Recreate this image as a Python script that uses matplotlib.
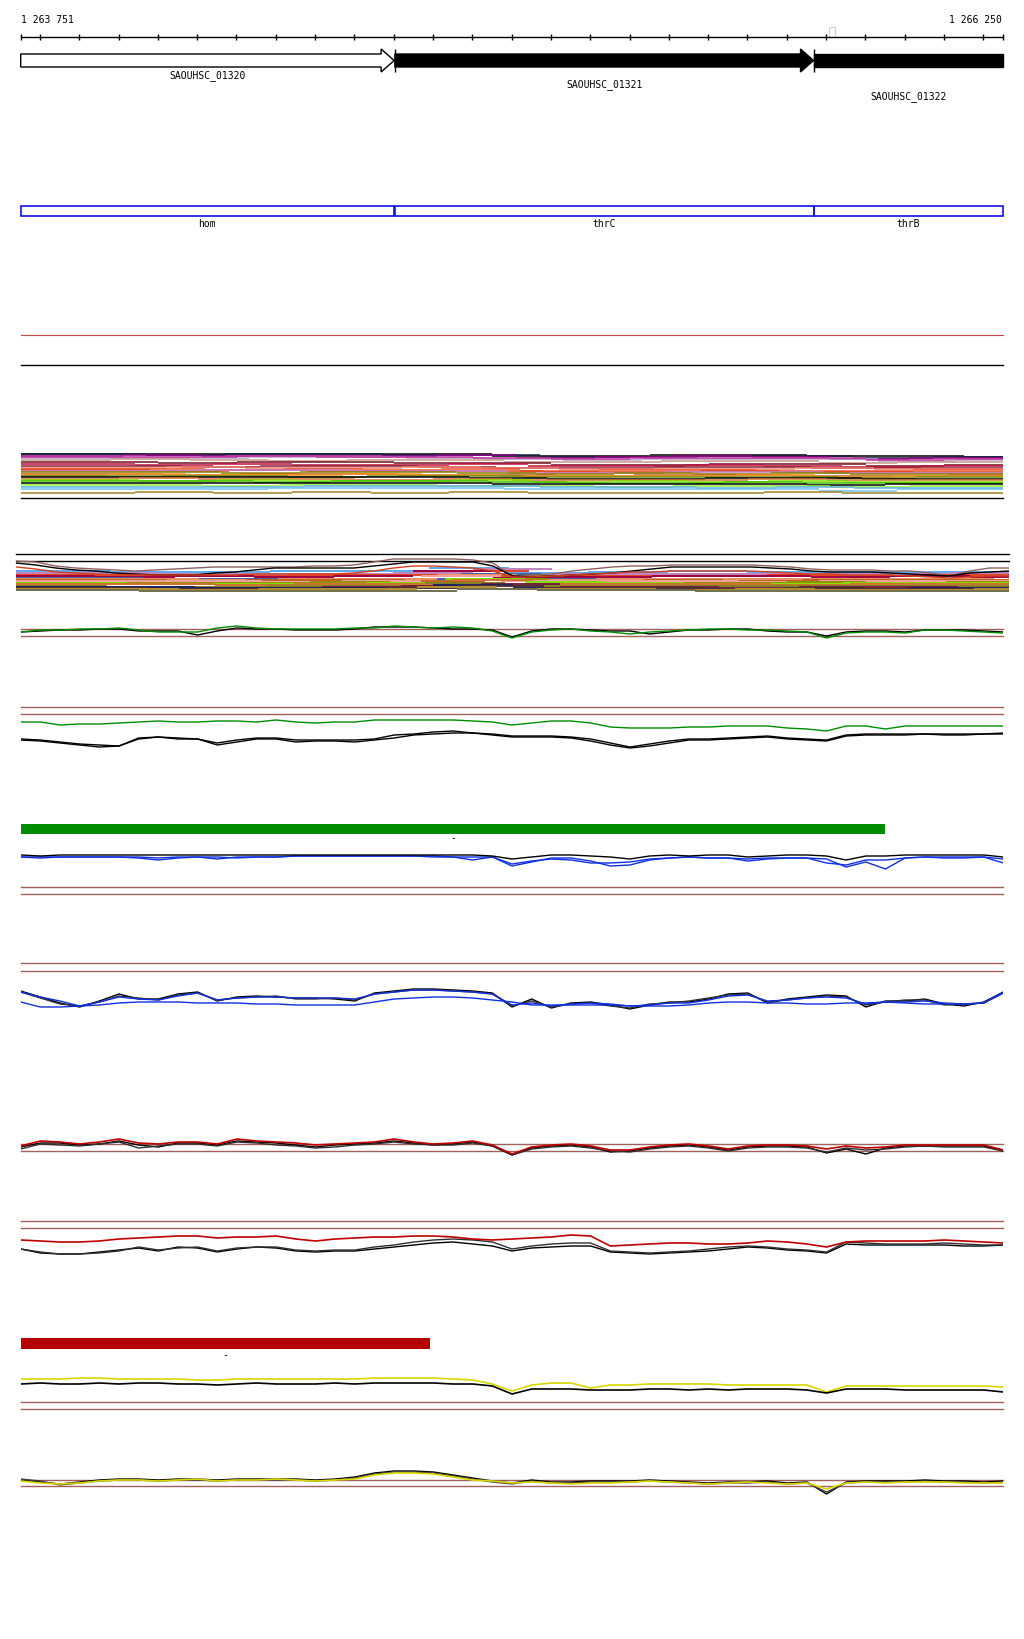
"""Genome browser view: SAOUHSC_01320..01322 (hom / thrC / thrB) with signal tracks."""
import matplotlib
matplotlib.use("Agg")
import matplotlib.pyplot as plt
from matplotlib.patches import Polygon, Rectangle
import numpy as np

W_PX, H_PX = 1024, 1640
GEN0, GEN1 = 1263751, 1266250
X0_PX, X1_PX = 20.7, 1003.0
SCALE = (X1_PX - X0_PX) / (GEN1 - GEN0)

# ---- annotation data ----
gene_names = ["SAOUHSC_01320", "SAOUHSC_01321", "SAOUHSC_01322"]
gene_start = [1263751, 1264703, 1265769]
gene_end = [1264701, 1265768, 1266250]
gene_fill = ["white", "black", "black"]
gene_has_head = [True, True, False]
gene_label_row = [76, 85, 97]

cds_names = ["hom", "thrC", "thrB"]
cds_start = [1263751, 1264703, 1265769]
cds_end = [1264701, 1265768, 1266250]

green_bar = (1263751, 1265950)
red_bar = (1263751, 1264793)
marker_box = (1265808, 1265823)

# ---- signal data (50 bp bins) ----
POS = GEN0 + 50 * np.arange(51)
STEP_POS = GEN0 + 200 * np.arange(13)

# track A: dense stepped lines (rank depth, inverted axis)
dense_a_colors = ["black", "#182040", "#900080", "#b8a0c8", "#c89888", "#701020",
                  "#c01040", "#882030", "#f08070", "#f05030", "#e04010", "#c080d0",
                  "#888000", "#c06020", "#f09020", "#709010", "black", "#d07030",
                  "#80e000", "#40c000", "black", "#90f030", "#60b0e8", "#70c0f0",
                  "#a08028", "#c030a0"]
dense_a_phase = [0, 120, 60, 180, 30, 150, 90, 10, 170, 70, 130, 40, 110,
                 160, 20, 80, 140, 50, 100, 190, 0, 60, 120, 30, 90, 150]
dense_a = [
    [5, 5, 5, 5, 5, 5, 7, 7, 6, 6, 7, 7, 8],
    [5, 6, 5, 5, 6, 6, 8, 8, 7, 7, 9, 8, 8],
    [7, 6, 7, 7, 7, 6, 9, 8, 7, 8, 10, 9, 9],
    [9, 9, 8, 8, 9, 10, 11, 10, 10, 10, 12, 11, 11],
    [11, 10, 11, 12, 11, 11, 13, 13, 12, 12, 14, 13, 13],
    [13, 14, 13, 13, 14, 14, 16, 16, 15, 15, 17, 16, 16],
    [15, 16, 15, 16, 16, 15, 17, 17, 16, 17, 18, 17, 17],
    [17, 17, 18, 17, 17, 18, 19, 19, 18, 18, 19, 19, 19],
    [19, 18, 19, 19, 18, 19, 20, 20, 20, 19, 20, 20, 20],
    [20, 20, 21, 20, 21, 20, 22, 21, 21, 22, 22, 21, 21],
    [21, 22, 21, 22, 22, 22, 23, 23, 22, 23, 23, 23, 22],
    [22, 22, 21, 21, 22, 22, 24, 24, 23, 23, 24, 24, 24],
    [23, 23, 24, 23, 23, 24, 25, 24, 25, 24, 25, 25, 24],
    [25, 26, 25, 25, 26, 26, 27, 26, 26, 27, 27, 26, 26],
    [26, 25, 26, 26, 25, 26, 27, 27, 27, 26, 28, 27, 27],
    [27, 27, 27, 28, 27, 27, 28, 28, 28, 28, 29, 28, 28],
    [28, 28, 28, 28, 28, 29, 30, 30, 29, 29, 30, 30, 30],
    [30, 29, 30, 30, 31, 30, 31, 31, 31, 30, 31, 31, 31],
    [31, 32, 31, 32, 32, 31, 33, 32, 33, 32, 33, 33, 32],
    [32, 32, 33, 32, 32, 33, 34, 34, 33, 34, 34, 34, 33],
    [34, 34, 34, 34, 34, 34, 35, 35, 35, 35, 36, 35, 35],
    [36, 36, 37, 36, 36, 37, 37, 38, 37, 37, 38, 37, 37],
    [38, 38, 38, 37, 37, 37, 38, 38, 39, 38, 39, 39, 39],
    [40, 40, 40, 39, 39, 39, 40, 40, 40, 40, 42, 40, 40],
    [44, 43, 44, 43, 44, 43, 44, 44, 44, 43, 44, 44, 44],
    [8, 8, 7, 8, 8, 9, 10, 9, 9, 9, 11, 10, 10],
]

# track B: envelopes (inverted axis) + dense band
env_b_colors = ["#906060", "black", "#d04020"]
env_b = [
    [12, 13, 17, 19, 20, 21, 22, 21, 20, 19, 18, 18, 18, 18, 18, 17, 17, 16, 13, 10, 10, 10, 10, 11, 14,
     27, 26, 25, 22, 20, 18, 17, 17, 16, 16, 16, 16, 16, 17, 18, 20, 21, 21, 21, 22, 22, 24, 27, 22, 19, 19],
    [14, 16, 19, 21, 22, 24, 25, 26, 26, 26, 24, 23, 21, 19, 19, 19, 19, 19, 17, 15, 13, 13, 13, 13, 17,
     27, 28, 27, 26, 25, 24, 22, 20, 18, 18, 18, 18, 18, 19, 20, 22, 23, 23, 23, 24, 25, 26, 27, 24, 23, 22],
    [18, 20, 23, 24, 25, 26, 26, 26, 26, 26, 26, 26, 25, 25, 25, 25, 25, 24, 22, 19, 17, 17, 18, 19, 22,
     28, 28, 27, 26, 25, 24, 23, 23, 22, 22, 22, 22, 22, 23, 24, 25, 25, 26, 26, 26, 27, 28, 29, 28, 27, 27],
]
dense_b_colors = ["#60a8e8", "#c080c0", "#e04020", "#a00040", "#4060a0", "#f09060",
                  "#c06020", "#f0a0a0", "#909000", "#80e000", "#d07030", "#808020",
                  "#702040", "#202060", "#503030", "#b09030", "#707050"]
dense_b_phase = [40, 150, 90, 0, 120, 60, 180, 20, 140, 80, 100, 30, 170, 50, 130, 10, 110]
dense_b = [
    [22, 23, 23, 22, 22, 19, 24, 23, 22, 23, 23, 23, 23],
    [24, 25, 25, 25, 24, 20, 25, 25, 25, 25, 25, 24, 24],
    [26, 26, 27, 26, 26, 22, 27, 27, 27, 26, 27, 26, 26],
    [27, 28, 27, 28, 27, 22, 28, 28, 27, 27, 28, 27, 28],
    [29, 30, 30, 30, 30, 25, 30, 30, 30, 30, 31, 31, 31],
    [30, 30, 31, 30, 30, 26, 31, 30, 30, 30, 30, 30, 31],
    [31, 32, 31, 31, 32, 27, 32, 31, 32, 31, 31, 31, 31],
    [32, 32, 32, 33, 32, 27, 32, 32, 32, 33, 32, 32, 32],
    [34, 34, 34, 33, 34, 30, 34, 34, 34, 33, 34, 33, 33],
    [34, 35, 35, 35, 34, 30, 33, 34, 35, 35, 34, 34, 34],
    [35, 35, 36, 35, 35, 31, 35, 35, 35, 36, 35, 35, 35],
    [37, 38, 38, 37, 37, 34, 37, 37, 37, 37, 37, 37, 37],
    [38, 39, 39, 38, 37, 35, 38, 38, 39, 38, 38, 39, 38],
    [38, 38, 39, 39, 39, 36, 39, 39, 40, 40, 40, 39, 39],
    [39, 40, 40, 40, 39, 37, 39, 39, 40, 39, 40, 40, 39],
    [40, 40, 41, 40, 40, 38, 40, 40, 41, 40, 41, 41, 40],
    [41, 42, 42, 42, 42, 40, 41, 41, 42, 42, 42, 42, 41],
]

# track C: green / black
c_green = [12, 14, 14, 15, 15, 16, 14, 12, 12, 12, 16, 18, 16, 15, 15, 15, 15, 16, 16, 18, 17, 16, 17, 16, 13,
           6, 12, 14, 15, 13, 12, 10, 12, 13, 14, 15, 15, 14, 14, 13, 12, 6, 11, 12, 12, 11, 14, 14, 13, 12, 11]
c_black = [12, 13, 14, 14, 15, 15, 13, 13, 13, 9, 13, 16, 15, 15, 14, 14, 14, 15, 17, 17, 17, 16, 15, 15, 14,
           7, 13, 15, 15, 14, 13, 13, 10, 12, 14, 14, 15, 15, 13, 12, 12, 8, 12, 13, 13, 12, 14, 14, 14, 13, 12]

# track D: green / black pair
d_green = [37, 37, 34, 35, 35, 36, 37, 38, 37, 37, 38, 38, 37, 39, 37, 36, 37, 37, 39, 39, 39, 39, 39, 38, 37,
           34, 36, 38, 38, 36, 32, 31, 31, 31, 32, 32, 33, 33, 33, 31, 30, 28, 33, 33, 30, 33, 33, 33, 33, 33, 33]
d_black1 = [20, 19, 17, 15, 14, 13, 20, 22, 21, 20, 16, 19, 21, 21, 19, 19, 19, 19, 20, 24, 25, 27, 28, 26, 25,
            23, 23, 23, 22, 20, 16, 12, 15, 18, 20, 20, 21, 22, 23, 21, 20, 19, 24, 25, 25, 25, 25, 25, 25, 25, 26]
d_black2 = [19, 18, 16, 14, 12, 13, 21, 22, 20, 20, 14, 17, 20, 20, 17, 18, 18, 17, 19, 21, 24, 25, 26, 26, 24,
            22, 22, 22, 21, 18, 14, 11, 13, 16, 19, 19, 20, 21, 22, 20, 19, 18, 23, 24, 24, 24, 25, 24, 24, 25, 25]

# track E: blue / black
e_black = [19, 18, 19, 19, 19, 19, 19, 19, 19, 19, 19, 19, 19, 19, 19, 19, 19, 19, 19, 19, 19, 19, 19, 19, 18,
           15, 17, 19, 19, 18, 17, 15, 18, 19, 18, 19, 19, 17, 18, 19, 19, 18, 14, 18, 18, 19, 19, 19, 19, 19, 17]
e_blue1 = [17, 17, 17, 17, 17, 17, 17, 16, 17, 17, 15, 17, 17, 17, 18, 18, 18, 18, 18, 18, 18, 18, 17, 14, 17,
           8, 12, 16, 16, 13, 8, 9, 14, 16, 17, 16, 16, 13, 15, 16, 16, 15, 7, 12, 5, 16, 17, 17, 17, 17, 11]
e_blue2 = [17, 16, 17, 17, 17, 17, 16, 14, 16, 17, 17, 16, 17, 17, 18, 18, 18, 18, 18, 18, 18, 17, 17, 17, 17,
           10, 13, 15, 14, 11, 11, 12, 15, 16, 17, 16, 16, 15, 16, 16, 16, 11, 9, 14, 14, 16, 17, 16, 16, 17, 15]

# track F: blue / black
f_black1 = [28, 22, 16, 12, 18, 25, 20, 20, 25, 27, 18, 22, 23, 22, 21, 21, 20, 18, 26, 28, 30, 30, 29, 28, 26,
            12, 20, 11, 16, 17, 14, 10, 14, 17, 17, 20, 25, 26, 16, 20, 22, 24, 23, 12, 18, 18, 20, 15, 13, 17, 27]
f_black2 = [27, 21, 15, 13, 17, 23, 21, 19, 24, 26, 19, 21, 22, 23, 20, 20, 21, 19, 25, 27, 29, 29, 28, 27, 25,
            13, 18, 12, 15, 16, 13, 11, 15, 16, 18, 21, 24, 25, 17, 19, 21, 23, 22, 14, 17, 19, 19, 14, 15, 16, 26]
f_blue1 = [27, 22, 18, 13, 17, 22, 20, 19, 23, 26, 19, 21, 22, 22, 21, 21, 21, 20, 25, 27, 29, 29, 28, 27, 25,
           14, 16, 13, 15, 16, 15, 13, 14, 16, 16, 19, 23, 24, 18, 19, 21, 22, 21, 15, 17, 17, 18, 16, 15, 16, 26]
f_blue2 = [17, 12, 12, 13, 14, 16, 17, 17, 17, 16, 16, 16, 15, 15, 14, 14, 14, 14, 17, 20, 21, 22, 22, 21, 19,
           17, 14, 14, 14, 14, 14, 13, 13, 13, 14, 16, 17, 17, 16, 16, 15, 15, 16, 16, 17, 16, 15, 15, 15, 16, 27]

# track G: red / black
g_red = [18, 23, 22, 20, 22, 25, 21, 20, 22, 22, 20, 25, 23, 22, 21, 19, 20, 21, 22, 25, 22, 20, 21, 23, 19,
         10, 17, 19, 20, 18, 14, 14, 17, 19, 20, 18, 15, 18, 19, 19, 18, 15, 18, 16, 17, 19, 19, 19, 19, 19, 14]
g_black1 = [17, 21, 21, 19, 20, 23, 19, 17, 21, 21, 19, 23, 22, 21, 19, 17, 19, 20, 21, 23, 21, 19, 20, 22, 18,
            9, 16, 18, 19, 17, 12, 13, 16, 18, 19, 17, 14, 17, 18, 18, 17, 11, 15, 10, 16, 18, 18, 18, 18, 18, 13]
g_black2 = [15, 20, 19, 18, 20, 22, 16, 18, 20, 20, 18, 22, 21, 19, 18, 16, 17, 19, 20, 22, 20, 19, 19, 21, 18,
            9, 15, 17, 18, 16, 13, 12, 15, 17, 18, 16, 13, 16, 17, 17, 16, 12, 16, 14, 15, 17, 18, 17, 17, 17, 13]

# track H: red / black
h_red = [19, 18, 17, 17, 18, 20, 21, 22, 23, 23, 21, 22, 22, 23, 20, 18, 20, 21, 22, 22, 23, 23, 22, 20, 19,
         20, 21, 22, 24, 23, 13, 14, 15, 16, 16, 15, 15, 16, 18, 17, 15, 12, 17, 18, 18, 18, 18, 19, 18, 17, 16]
h_black1 = [10, 6, 5, 5, 7, 9, 11, 8, 12, 11, 7, 10, 12, 11, 8, 7, 8, 8, 10, 12, 14, 16, 17, 15, 13,
            8, 11, 12, 13, 13, 7, 6, 5, 6, 7, 8, 10, 12, 11, 9, 8, 6, 15, 14, 14, 14, 14, 14, 13, 13, 14]
h_black2 = [10, 7, 5, 5, 6, 8, 12, 9, 11, 12, 8, 11, 12, 12, 9, 8, 9, 9, 12, 14, 17, 19, 20, 19, 17,
            10, 13, 15, 16, 16, 8, 7, 6, 7, 8, 10, 12, 13, 12, 10, 9, 7, 17, 16, 15, 15, 15, 16, 15, 14, 14]

# track I: yellow / black
i_yellow = [20, 20, 20, 21, 21, 20, 20, 20, 20, 19, 19, 20, 20, 20, 20, 20, 20, 20, 21, 21, 21, 21, 20, 19, 15,
            8, 14, 16, 16, 11, 14, 14, 15, 15, 15, 15, 14, 14, 14, 14, 14, 7, 13, 13, 13, 13, 13, 13, 13, 13, 12]
i_black = [15, 16, 15, 15, 16, 15, 16, 16, 15, 15, 14, 15, 16, 15, 15, 15, 16, 15, 16, 16, 16, 16, 15, 15, 13,
           5, 10, 10, 10, 9, 9, 9, 10, 10, 9, 10, 9, 10, 10, 10, 9, 6, 10, 10, 10, 9, 9, 9, 9, 9, 7]

# track J: yellow / black
j_yellow = [18, 16, 15, 16, 18, 19, 19, 18, 19, 20, 18, 19, 19, 20, 19, 18, 19, 20, 24, 26, 26, 25, 22, 19, 18,
            16, 17, 16, 15, 16, 16, 17, 18, 17, 16, 15, 16, 17, 16, 15, 16, 10, 16, 17, 16, 17, 17, 17, 16, 16, 16]
j_black1 = [19, 17, 15, 17, 19, 20, 20, 19, 20, 20, 19, 20, 20, 20, 20, 19, 20, 22, 26, 28, 28, 27, 24, 21, 18,
            16, 19, 17, 17, 18, 18, 18, 19, 18, 17, 16, 17, 17, 18, 16, 17, 5, 17, 18, 18, 18, 19, 18, 18, 17, 18]
j_black2 = [20, 18, 14, 16, 18, 19, 19, 18, 19, 19, 18, 19, 19, 19, 19, 18, 19, 21, 25, 27, 27, 26, 23, 20, 17,
            15, 18, 16, 16, 17, 17, 17, 18, 17, 16, 15, 16, 16, 17, 15, 16, 7, 16, 17, 17, 17, 18, 17, 17, 16, 17]

BROWN = "#a0605c"
MONO = "DejaVu Sans Mono"


def px_to_gen(px):
    return GEN0 + (px - X0_PX) / SCALE


def track_ax(fig, top, bottom, inverted=False, left_px=X0_PX, right_px=X1_PX):
    ax = fig.add_axes([left_px / W_PX, 1 - bottom / H_PX,
                       (right_px - left_px) / W_PX, (bottom - top) / H_PX])
    ax.set_xlim(GEN0, GEN1)
    if inverted:
        ax.set_ylim(bottom - top, 0)
    else:
        ax.set_ylim(0, bottom - top)
    ax.axis("off")
    ax.patch.set_alpha(0)
    return ax


def segments(ax, vals, color, phase, lw):
    # horizontal runs only, no vertical risers (browser style)
    edges = [GEN0] + [p + phase for p in STEP_POS[1:] if p + phase < GEN1] + [GEN1]
    ys = list(vals[:len(edges) - 1])
    ax.hlines(ys, edges[:-1], edges[1:], color=color, lw=lw)


def main():
    fig = plt.figure(figsize=(W_PX / 100, H_PX / 100), dpi=100)
    ov = fig.add_axes([0, 0, 1, 1])
    ov.set_xlim(px_to_gen(0), px_to_gen(W_PX))
    ov.set_ylim(H_PX, 0)
    ov.axis("off")

    # ruler
    ov.plot([GEN0, GEN1], [37.5, 37.5], color="black", lw=1)
    ticks = [GEN0] + list(np.arange(1263800, GEN1, 100)) + [GEN1]
    ov.vlines(ticks, 35, 40.5, color="black", lw=1)
    ov.text(GEN0, 20, f"{GEN0:,}".replace(",", " "), fontsize=7, family=MONO,
            ha="left", va="center")
    ov.text(px_to_gen(1002), 20, f"{GEN1:,}".replace(",", " "), fontsize=7, family=MONO,
            ha="right", va="center")
    ov.add_patch(Rectangle((marker_box[0], 28), marker_box[1] - marker_box[0], 10,
                           fill=False, edgecolor="#f4c8b8", lw=0.8))

    # genes
    head = 13 / SCALE
    for name, s, e, fc, hh, row in zip(gene_names, gene_start, gene_end, gene_fill,
                                       gene_has_head, gene_label_row):
        if hh:
            pts = [(s, 55), (e - head, 55), (e - head, 50), (e, 61.5), (e - head, 73),
                   (e - head, 68), (s, 68)]
        else:
            pts = [(s, 55), (e, 55), (e, 68), (s, 68)]
        ov.add_patch(Polygon(pts, closed=True, facecolor=fc, edgecolor="black", lw=1))
        ov.text((s + e) / 2, row, name, fontsize=7, family=MONO, ha="center", va="center")
    ov.vlines(gene_start[1:], 50, 73, color="black", lw=1)

    # CDS boxes
    for name, s, e in zip(cds_names, cds_start, cds_end):
        ov.add_patch(Rectangle((s, 207), e - s, 10, fill=False, edgecolor="#1010e0", lw=1.2))
        ov.text((s + e) / 2, 224, name, fontsize=7, family=MONO, ha="center", va="center")

    # separators
    ov.plot([GEN0, GEN1], [336, 336], color="#c04848", lw=0.8)
    ov.plot([GEN0, GEN1], [366, 366], color="black", lw=1)
    ov.plot([GEN0, GEN1], [499, 499], color="black", lw=1)
    ov.plot([px_to_gen(16), px_to_gen(1009)], [555, 555], color="black", lw=1)
    ov.plot([px_to_gen(16), px_to_gen(1009)], [562, 562], color="black", lw=1)
    for y in [630, 637, 708, 715, 888, 895, 964, 972, 1145, 1152, 1222, 1229,
              1403, 1410, 1481, 1487]:
        ov.plot([GEN0, GEN1], [y, y], color=BROWN, lw=1)

    # bars
    ov.add_patch(Rectangle((green_bar[0], 825), green_bar[1] - green_bar[0], 10,
                           facecolor="#008c00", edgecolor="none"))
    ov.text((green_bar[0] + green_bar[1]) / 2, 838, "-", fontsize=7, family=MONO,
            ha="center", va="center")
    ov.add_patch(Rectangle((red_bar[0], 1339), red_bar[1] - red_bar[0], 11,
                           facecolor="#b40000", edgecolor="none"))
    ov.text((red_bar[0] + red_bar[1]) / 2, 1355, "-", fontsize=7, family=MONO,
            ha="center", va="center")

    # track A
    ax = track_ax(fig, 450, 502, inverted=True)
    for vals, c, ph in zip(dense_a, dense_a_colors, dense_a_phase):
        segments(ax, vals, c, ph, 1.1)

    # track B
    ax = track_ax(fig, 550, 600, inverted=True, left_px=16, right_px=1009)
    for vals, c, ph in zip(dense_b, dense_b_colors, dense_b_phase):
        segments(ax, vals, c, ph, 1.4)
    for vals, c in zip(env_b, env_b_colors):
        ax.plot(POS, vals, color=c, lw=1.0)

    # track C
    ax = track_ax(fig, 620, 645)
    ax.plot(POS, c_black, color="black", lw=1.0)
    ax.plot(POS, c_green, color="#008c00", lw=1.0)

    # track D
    ax = track_ax(fig, 700, 760)
    ax.plot(POS, d_black1, color="black", lw=1.0)
    ax.plot(POS, d_black2, color="black", lw=1.0)
    ax.plot(POS, d_green, color="#008c00", lw=1.0)

    # track E
    ax = track_ax(fig, 845, 875)
    ax.plot(POS, e_blue1, color="#1030e0", lw=1.0)
    ax.plot(POS, e_blue2, color="#1030e0", lw=1.0)
    ax.plot(POS, e_black, color="black", lw=1.0)

    # track F
    ax = track_ax(fig, 975, 1020)
    ax.plot(POS, f_black1, color="black", lw=1.0)
    ax.plot(POS, f_black2, color="#303030", lw=1.0)
    ax.plot(POS, f_blue1, color="#1030e0", lw=1.0)
    ax.plot(POS, f_blue2, color="#1030e0", lw=1.0)

    # track G
    ax = track_ax(fig, 1125, 1165)
    ax.plot(POS, g_black1, color="black", lw=1.0)
    ax.plot(POS, g_black2, color="#303030", lw=1.0)
    ax.plot(POS, g_red, color="#c00000", lw=1.2)

    # track H
    ax = track_ax(fig, 1230, 1260)
    ax.plot(POS, h_black1, color="black", lw=1.0)
    ax.plot(POS, h_black2, color="#303030", lw=1.0)
    ax.plot(POS, h_red, color="#c00000", lw=1.2)

    # track I
    ax = track_ax(fig, 1370, 1400)
    ax.plot(POS, i_yellow, color="#d8d800", lw=1.2)
    ax.plot(POS, i_black, color="black", lw=1.2)

    # track J
    ax = track_ax(fig, 1460, 1500)
    ax.plot(POS, j_black1, color="black", lw=1.0)
    ax.plot(POS, j_black2, color="#404040", lw=1.0)
    ax.plot(POS, j_yellow, color="#d8d800", lw=1.2)

    fig.savefig("out.png", dpi=100, facecolor="white")
    plt.close(fig)


if __name__ == "__main__":
    main()
